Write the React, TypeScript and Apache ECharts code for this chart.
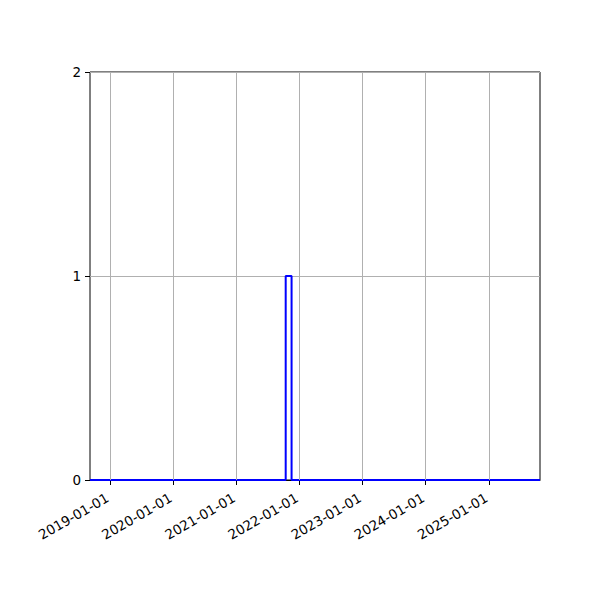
import React, { useEffect, useRef } from 'react';
import * as echarts from 'echarts';

// histogram (step outline), bin edges as dates and counts per bin
const binEdges = ['2018-09-07', '2021-10-13', '2021-11-16', '2025-10-23'];
const binCounts = [0, 1, 0];

const xTickDates = [
  '2019-01-01',
  '2020-01-01',
  '2021-01-01',
  '2022-01-01',
  '2023-01-01',
  '2024-01-01',
  '2025-01-01',
];
const yTicks = [0, 1, 2];

const toTs = (d: string) => {
  const [y, m, day] = d.split('-').map(Number);
  return Date.UTC(y, m - 1, day);
};

const pad = (n: number) => (n < 10 ? '0' + n : '' + n);
const fmtDate = (v: number) => {
  const d = new Date(v);
  return `${d.getUTCFullYear()}-${pad(d.getUTCMonth() + 1)}-${pad(d.getUTCDate())}`;
};

const FONT = 'DejaVu Sans';
const GRID_COLOR = '#b0b0b0';

const App = (): JSX.Element => {
  const divEL = useRef(null);

  useEffect(() => {
    const chartDOM = divEL.current;
    const instance = echarts.init(chartDOM as any, null, { renderer: 'svg' });

    const edges = binEdges.map(toTs);
    const xTicks = xTickDates.map(toTs);
    const stepData: number[][] = binCounts.map((c, i) => [edges[i], c]);
    stepData.push([edges[edges.length - 1], binCounts[binCounts.length - 1]]);

    const option: echarts.EChartsOption = {
      animation: false,
      textStyle: { fontFamily: FONT },
      grid: {
        left: 82,
        top: 64,
        right: 52,
        bottom: 112,
        show: true,
        borderColor: '#000',
        borderWidth: 1,
        backgroundColor: '#fff',
      },
      xAxis: {
        type: 'value',
        min: edges[0],
        max: edges[edges.length - 1],
        axisLine: { show: true, onZero: false, lineStyle: { color: '#000', width: 1 } },
        axisTick: {
          show: true,
          length: 5,
          customValues: xTicks,
          lineStyle: { color: '#000', width: 1 },
        },
        axisLabel: {
          customValues: xTicks,
          rotate: 30,
          margin: 15,
          padding: [0, 3, 0, 0],
          color: '#000',
          fontSize: 13.5,
          fontFamily: FONT,
          formatter: (v: number) => fmtDate(v),
        },
        splitLine: { show: false },
      },
      yAxis: {
        type: 'value',
        min: 0,
        max: 2,
        interval: 1,
        axisLine: { show: false },
        axisTick: { show: true, length: 5, lineStyle: { color: '#000', width: 1 } },
        axisLabel: {
          margin: 9,
          color: '#000',
          fontSize: 13.5,
          fontFamily: FONT,
          formatter: (v: number) => (yTicks.includes(v) ? String(v) : ''),
        },
        splitLine: { show: true, lineStyle: { color: GRID_COLOR, width: 1 } },
      },
      series: [
        {
          // vertical grid lines at the year ticks
          type: 'line',
          data: [],
          z: 1,
          silent: true,
          markLine: {
            silent: true,
            symbol: 'none',
            label: { show: false },
            lineStyle: { color: GRID_COLOR, width: 1, type: 'solid' },
            data: xTicks.map((t) => ({ xAxis: t })),
          },
        },
        {
          type: 'line',
          step: 'end',
          z: 3,
          symbol: 'none',
          lineStyle: { color: '#0000ff', width: 2 },
          data: stepData,
        },
      ],
    };

    instance.setOption(option);

    return () => {
      instance.dispose();
    };
  }, []);

  return <div ref={divEL} style={{ width: 584, height: 584 }}></div>;
};

export default App;
